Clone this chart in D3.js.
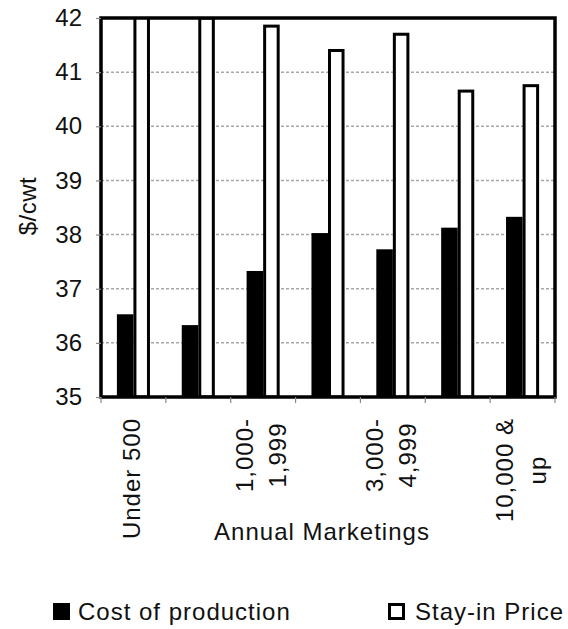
<!DOCTYPE html>
<html>
<head>
<meta charset="utf-8">
<script src="https://cdn.jsdelivr.net/npm/d3@7"></script>
<style>
  html, body { margin: 0; padding: 0; background: #fff; }
  svg { display: block; font-family: "Liberation Sans", Arial, sans-serif; }
</style>
</head>
<body>
<svg id="chart" width="568" height="629"></svg>
<script>
// ---- data ----
const categories = ["Under 500", "500-999", "1,000-1,999", "2,000-2,999", "3,000-4,999", "5,000-9,999", "10,000 & up"];
const tickLabels = [["Under 500"], [], ["1,000-", "1,999"], [], ["3,000-", "4,999"], [], ["10,000 &", "up"]];
const seriesNames = ["Cost of production", "Stay-in Price"];
const costOfProduction = [36.5, 36.3, 37.3, 38.0, 37.7, 38.1, 38.3];
const stayInPrice = [42.3, 42.0, 41.85, 41.4, 41.7, 40.65, 40.75];
const yTicks = [35, 36, 37, 38, 39, 40, 41, 42];
const yTitle = "$/cwt";
const xTitle = "Annual Marketings";

// ---- layout ----
const svg = d3.select("#chart");
const m = { left: 101, right: 555, top: 18, bottom: 397 };

const x = d3.scaleBand().domain(categories).range([m.left, m.right]).padding(0);
const xs = d3.scaleBand().domain(seriesNames)
  .range([x.bandwidth() * 0.245, x.bandwidth() * 0.755]).padding(0);
const y = d3.scaleLinear().domain([35, 42]).range([m.bottom, m.top]);

svg.append("rect").attr("width", 568).attr("height", 629).attr("fill", "#fff");

// gridlines
svg.append("g").selectAll("line").data(yTicks.filter(t => t > 35 && t < 42)).join("line")
  .attr("x1", m.left).attr("x2", m.right)
  .attr("y1", d => y(d)).attr("y2", d => y(d))
  .attr("stroke", "#a8a8a8").attr("stroke-width", 1.5).attr("stroke-dasharray", "3,2");

// bars
svg.append("clipPath").attr("id", "plotclip").append("rect")
  .attr("x", m.left).attr("y", m.top).attr("width", m.right - m.left).attr("height", m.bottom - m.top);

const rows = categories.map((c, i) => ({ c, vals: [costOfProduction[i], stayInPrice[i]] }));
const bars = svg.append("g").attr("clip-path", "url(#plotclip)");
rows.forEach(r => {
  r.vals.forEach((v, j) => {
    const s = seriesNames[j];
    bars.append("rect")
      .attr("x", x(r.c) + xs(s) + 1.5)
      .attr("width", xs.bandwidth() - 3)
      .attr("y", y(v))
      .attr("height", y(35) - y(v))
      .attr("fill", j === 0 ? "#000" : "#fff")
      .attr("stroke", "#000").attr("stroke-width", 3);
  });
});

// plot frame
svg.append("rect").attr("x", m.left).attr("y", m.top)
  .attr("width", m.right - m.left).attr("height", m.bottom - m.top)
  .attr("fill", "none").attr("stroke", "#000").attr("stroke-width", 3.5);

// y axis
const yAxis = d3.axisLeft(y).tickValues(yTicks).tickSize(5).tickPadding(14).tickFormat(d3.format("d"));
const gy = svg.append("g").attr("transform", `translate(${m.left},0)`).call(yAxis);
gy.select(".domain").remove();
gy.selectAll(".tick line").attr("stroke", "#888").attr("stroke-width", 1.2);
gy.selectAll(".tick text").attr("font-size", 24).attr("fill", "#111")
  .attr("font-family", "Liberation Sans, Arial, sans-serif");

// x ticks at category boundaries
const bounds = categories.map(c => x(c)).concat([x(categories[categories.length - 1]) + x.bandwidth()]);
svg.append("g").selectAll("line").data(bounds).join("line")
  .attr("x1", d => d).attr("x2", d => d)
  .attr("y1", m.bottom).attr("y2", m.bottom + 6)
  .attr("stroke", "#888").attr("stroke-width", 1.2);

// x tick labels (rotated)
const labTop = 418, lineGap = 33;
const gl = svg.append("g").attr("font-size", 24).attr("letter-spacing", 1).attr("fill", "#111");
categories.forEach((c, i) => {
  const lines = tickLabels[i];
  if (!lines.length) return;
  const cx = x(c) + x.bandwidth() / 2 - 2;
  const tmp = lines.map(l => gl.append("text").text(l));
  const maxLen = d3.max(tmp, t => t.node().getComputedTextLength());
  tmp.forEach(t => t.remove());
  const cy = labTop + maxLen / 2;
  lines.forEach((l, k) => {
    const off = (k - (lines.length - 1) / 2) * lineGap;
    gl.append("text")
      .attr("transform", `translate(${cx + off},${cy}) rotate(-90)`)
      .attr("text-anchor", "middle").attr("dominant-baseline", "central")
      .text(l);
  });
});

// axis titles
svg.append("text").attr("x", 322).attr("y", 540).attr("text-anchor", "middle")
  .attr("font-size", 24).attr("letter-spacing", 1).attr("fill", "#111").text(xTitle);
svg.append("text").attr("transform", "translate(27,206) rotate(-90)")
  .attr("text-anchor", "middle").attr("dominant-baseline", "central")
  .attr("font-size", 24).attr("letter-spacing", 0.5).attr("fill", "#111").text(yTitle);

// legend
const legendPos = [{ sx: 53, tx: 78 }, { sx: 388, tx: 415 }];
seriesNames.forEach((s, j) => {
  const p = legendPos[j];
  svg.append("rect").attr("x", p.sx + 1.5).attr("y", 604.5).attr("width", 14).attr("height", 14)
    .attr("fill", j === 0 ? "#000" : "#fff").attr("stroke", "#000").attr("stroke-width", 3);
  svg.append("text").attr("x", p.tx).attr("y", 620).attr("font-size", 24)
    .attr("letter-spacing", 1).attr("fill", "#111").text(s);
});
</script>
</body>
</html>
